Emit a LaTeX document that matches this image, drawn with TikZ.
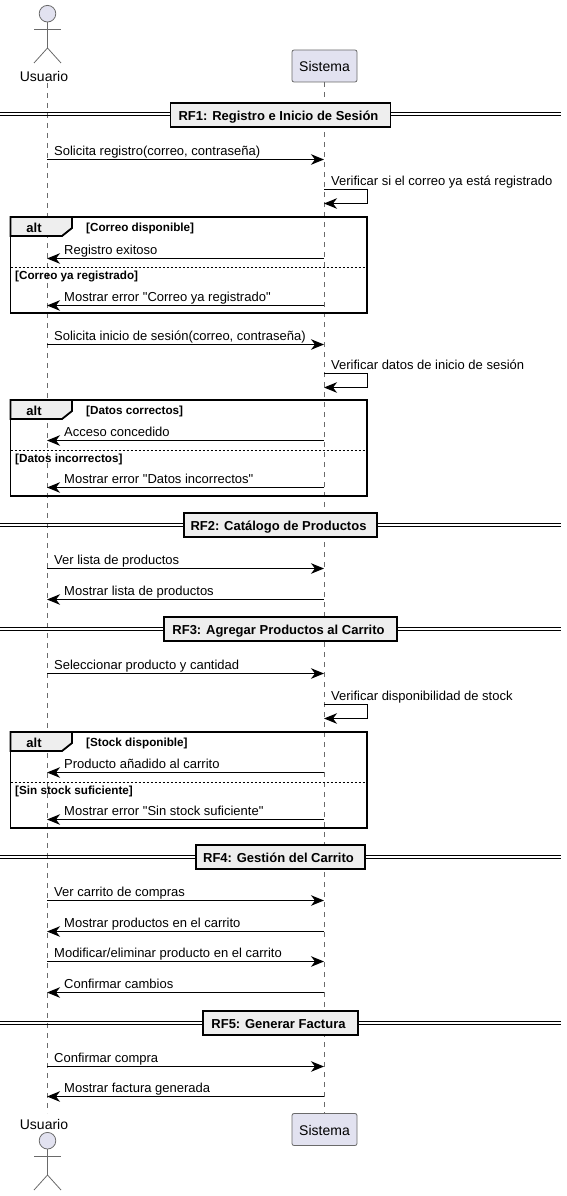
\documentclass[tikz,border=0pt]{standalone}
\usepackage{fontspec}
\setmainfont{Liberation Sans}[Ligatures=TeXOff]
\usepackage{xcolor}
\usetikzlibrary{arrows.meta,positioning}
\definecolor{actorfill}{HTML}{E2E2F0}
\definecolor{actorline}{HTML}{6A6A6A}
\definecolor{tabfill}{HTML}{EEEEEE}

\begin{document}
\begin{tikzpicture}[
    x=1pt, y=-1pt,
    lifeline/.style={draw=actorline, line width=0.7pt, dash pattern=on 5pt off 5pt},
    msgarrow/.style={line width=1pt, -{Stealth[length=13pt,width=10.5pt,inset=4pt]}},
    msglabel/.style={anchor=base west, inner sep=0pt, font=\fontsize{13}{15}\selectfont},
    partbox/.style={rectangle, rounded corners=2pt, draw=actorline, line width=0.8pt, fill=actorfill,
        minimum width=65pt, minimum height=32pt, inner sep=0pt, text height=12pt,
        font=\fontsize{14}{16}\selectfont},
    actorname/.style={inner sep=0pt, font=\fontsize{14}{16}\selectfont},
    actorhead/.style={circle, draw=actorline, line width=0.8pt, fill=actorfill, minimum size=16.6pt, inner sep=0pt},
    actorlimb/.style={draw=actorline, line width=0.8pt},
    dividerbox/.style={rectangle, draw=black, line width=1.8pt, fill=tabfill, minimum height=24pt,
        inner sep=0pt, text height=10.5pt, text depth=0pt, execute at end node=\hspace{4pt},
        font=\bfseries\fontsize{13}{15}\selectfont},
    doubleline/.style={draw=black, line width=1pt},
    altframe/.style={draw=black, line width=1.8pt},
    alttab/.style={draw=black, line width=1.8pt, fill=tabfill},
    altname/.style={inner sep=0pt, font=\bfseries\fontsize{13}{15}\selectfont},
    condlabel/.style={anchor=base west, inner sep=0pt, font=\bfseries\fontsize{11.7}{13}\selectfont},
    altsep/.style={draw=black, line width=0.6pt, dash pattern=on 2pt off 2pt}
]
    \useasboundingbox (0,0) rectangle (567,1196);

    % lifelines
    \coordinate (usertop) at (47.5,83);
    \coordinate (userbot) at (47.5,1113);
    \node[actorname] (nametop) at (44,76) {Usuario};
    \node[actorname] (namebot) at (44,1124) {Usuario};
    \node[partbox] (systop) at (324.5,66) {Sistema};
    \node[partbox] (sysbot) at (324.5,1129.5) {Sistema};
    \draw[lifeline] (usertop) -- (userbot);
    \draw[lifeline] (systop) -- (sysbot);

    % actors
    \foreach \nm/\ytop in {top/5, bot/1132} {
        \node[actorhead, anchor=north] (head\nm) at (47.5,\ytop) {};
        \coordinate (hip\nm) at (47.5,\ytop+43);
        \coordinate (armL\nm) at (34,\ytop+24);
        \coordinate (armR\nm) at (61,\ytop+24);
        \coordinate (footL\nm) at (34,\ytop+58);
        \coordinate (footR\nm) at (61,\ytop+58);
        \draw[actorlimb] (head\nm) -- (hip\nm);
        \draw[actorlimb] (armL\nm) -- (armR\nm);
        \draw[actorlimb] (footL\nm) -- (hip\nm) -- (footR\nm);
    }

    % dividers
    \foreach \idx/\ypos/\boxw/\txt in {
        1/115/220/{RF1: Registro e Inicio de Sesión},
        2/525/193/{RF2: Catálogo de Productos},
        3/629/233/{RF3: Agregar Productos al Carrito},
        4/857/169/{RF4: Gestión del Carrito},
        5/1023/155/{RF5: Generar Factura}} {
        \coordinate (divL\idx) at (0,\ypos-0.5);
        \coordinate (divR\idx) at (561,\ypos-0.5);
        \draw[doubleline] ([yshift=1.5pt]divL\idx) -- ([yshift=1.5pt]divR\idx);
        \draw[doubleline] ([yshift=-1.5pt]divL\idx) -- ([yshift=-1.5pt]divR\idx);
        \node[dividerbox, minimum width=\boxw pt] (div\idx) at (280.5,\ypos) {\txt};
    }

    % calls from Usuario to Sistema
    \foreach \idx/\ypos/\txt in {
        1/159/{Solicita registro(correo, contraseña)},
        2/344/{Solicita inicio de sesión(correo, contraseña)},
        3/568/{Ver lista de productos},
        4/673/{Seleccionar producto y cantidad},
        5/900/{Ver carrito de compras},
        6/961/{Modificar/eliminar producto en el carrito},
        7/1066/{Confirmar compra}} {
        \coordinate (ua\idx) at (47,\ypos+0.5);
        \coordinate (sa\idx) at (324,\ypos+0.5);
        \draw[msgarrow] (ua\idx) -- (sa\idx);
        \node[msglabel] (la\idx) at (54,\ypos-4) {\txt};
    }

    % answers from Sistema to Usuario
    \foreach \idx/\ypos/\txt in {
        1/258/{Registro exitoso},
        2/305/{Mostrar error "Correo ya registrado"},
        3/440/{Acceso concedido},
        4/487/{Mostrar error "Datos incorrectos"},
        5/599/{Mostrar lista de productos},
        6/772/{Producto añadido al carrito},
        7/819/{Mostrar error "Sin stock suficiente"},
        8/931/{Mostrar productos en el carrito},
        9/992/{Confirmar cambios},
        10/1096/{Mostrar factura generada}} {
        \coordinate (sb\idx) at (324,\ypos+0.5);
        \coordinate (ub\idx) at (47,\ypos+0.5);
        \draw[msgarrow] (sb\idx) -- (ub\idx);
        \node[msglabel] (lb\idx) at (64,\ypos-4) {\txt};
    }

    % self calls
    \foreach \idx/\ypos/\txt in {
        1/189/{Verificar si el correo ya está registrado},
        2/373/{Verificar datos de inicio de sesión},
        3/704/{Verificar disponibilidad de stock}} {
        \coordinate (sc\idx) at (324,\ypos+0.5);
        \coordinate (se\idx) at (324,\ypos+14.5);
        \draw[msgarrow] (sc\idx) -- ++(43,0) -- ++(0,14) -- (se\idx);
        \node[msglabel] (lc\idx) at (331,\ypos-4) {\txt};
    }

    % alt frames
    \foreach \idx/\ypos/\first/\second in {
        1/217/{[Correo disponible]}/{[Correo ya registrado]},
        2/400/{[Datos correctos]}/{[Datos incorrectos]},
        3/732/{[Stock disponible]}/{[Sin stock suficiente]}} {
        \coordinate (frameA\idx) at (10.5,\ypos);
        \coordinate (frameB\idx) at (367,\ypos+96);
        \coordinate (sepA\idx) at (10.5,\ypos+50.5);
        \coordinate (sepB\idx) at (367,\ypos+50.5);
        \draw[altframe] (frameA\idx) rectangle (frameB\idx);
        \draw[alttab] (frameA\idx) -- ++(61.5,0) -- ++(0,11) -- ++(-10,8) -- ++(-51.5,0) -- cycle;
        \draw[altsep] (sepA\idx) -- (sepB\idx);
        \node[altname] (altname\idx) at (34,\ypos+10.5) {alt};
        \node[condlabel] (altfirst\idx) at (86,\ypos+14.5) {\first};
        \node[condlabel] (altsecond\idx) at (15,\ypos+62) {\second};
    }
\end{tikzpicture}
\end{document}
